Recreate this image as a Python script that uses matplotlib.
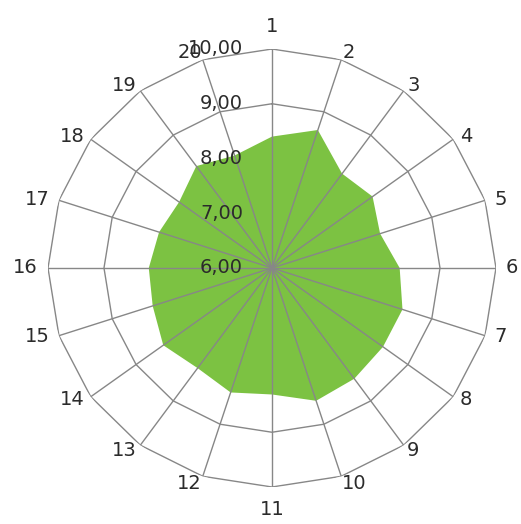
import numpy as np
import matplotlib
matplotlib.use("Agg")
import matplotlib.pyplot as plt

# data
categories = [str(i) for i in range(1, 21)]
values = [8.40, 8.65, 8.13, 8.22, 8.03, 8.28, 8.45, 8.45, 8.50, 8.55,
          8.31, 8.39, 8.26, 8.40, 8.24, 8.20, 8.12, 8.05, 8.30, 8.16]
r_ticks = [6, 7, 8, 9, 10]
r_labels = ["6,00", "7,00", "8,00", "9,00", "10,00"]

grid_col = "#878787"
text_col = "#2b2b2b"
fill_col = "#7cc242"

n = len(categories)
theta = np.deg2rad(np.arange(n) * 360.0 / n)
theta_c = np.r_[theta, theta[0]]
vals_c = np.r_[values, values[0]]

fig = plt.figure(figsize=(5.21, 5.24), dpi=100)
ax = fig.add_axes([0.0921, 0.0706, 0.8599, 0.8359], projection="polar")
ax.set_aspect("auto")
ax.set_theta_zero_location("N")
ax.set_theta_direction(-1)
ax.set_ylim(r_ticks[0], r_ticks[-1])
ax.grid(False)
ax.set_xticks([])
ax.set_yticks([])
ax.spines["polar"].set_visible(False)

# polygon rings (under the fill)
for r in r_ticks[1:]:
    ax.plot(theta_c, [r] * (n + 1), color=grid_col, lw=1.0, zorder=1)

# data area
ax.fill(theta_c, vals_c, color=fill_col, lw=0, zorder=2)

# spokes (over the fill)
for t in theta:
    ax.plot([t, t], [r_ticks[0], r_ticks[-1]], color=grid_col, lw=1.0, zorder=3)

# value labels along the first spoke
for r, lab in zip(r_ticks, r_labels):
    ax.annotate(lab, xy=(0, r), xytext=(-29, 0), textcoords="offset pixels",
                ha="right", va="center", fontsize=14, color=text_col,
                annotation_clip=False, zorder=4)

# category labels
for t, lab in zip(theta, categories):
    s, c = np.sin(t), np.cos(t)
    if abs(s) < 0.2:
        ha, va = "center", ("bottom" if c > 0 else "top")
        off = (0, 13 * np.sign(c))
    else:
        ha, va = ("left" if s > 0 else "right"), "center"
        off = (10 * s * abs(s), 8 * c * abs(c))
    ax.annotate(lab, xy=(t, r_ticks[-1]), xytext=off,
                textcoords="offset pixels", ha=ha, va=va, fontsize=14,
                color=text_col, annotation_clip=False)

fig.savefig("out.png", dpi=100, facecolor="white")
